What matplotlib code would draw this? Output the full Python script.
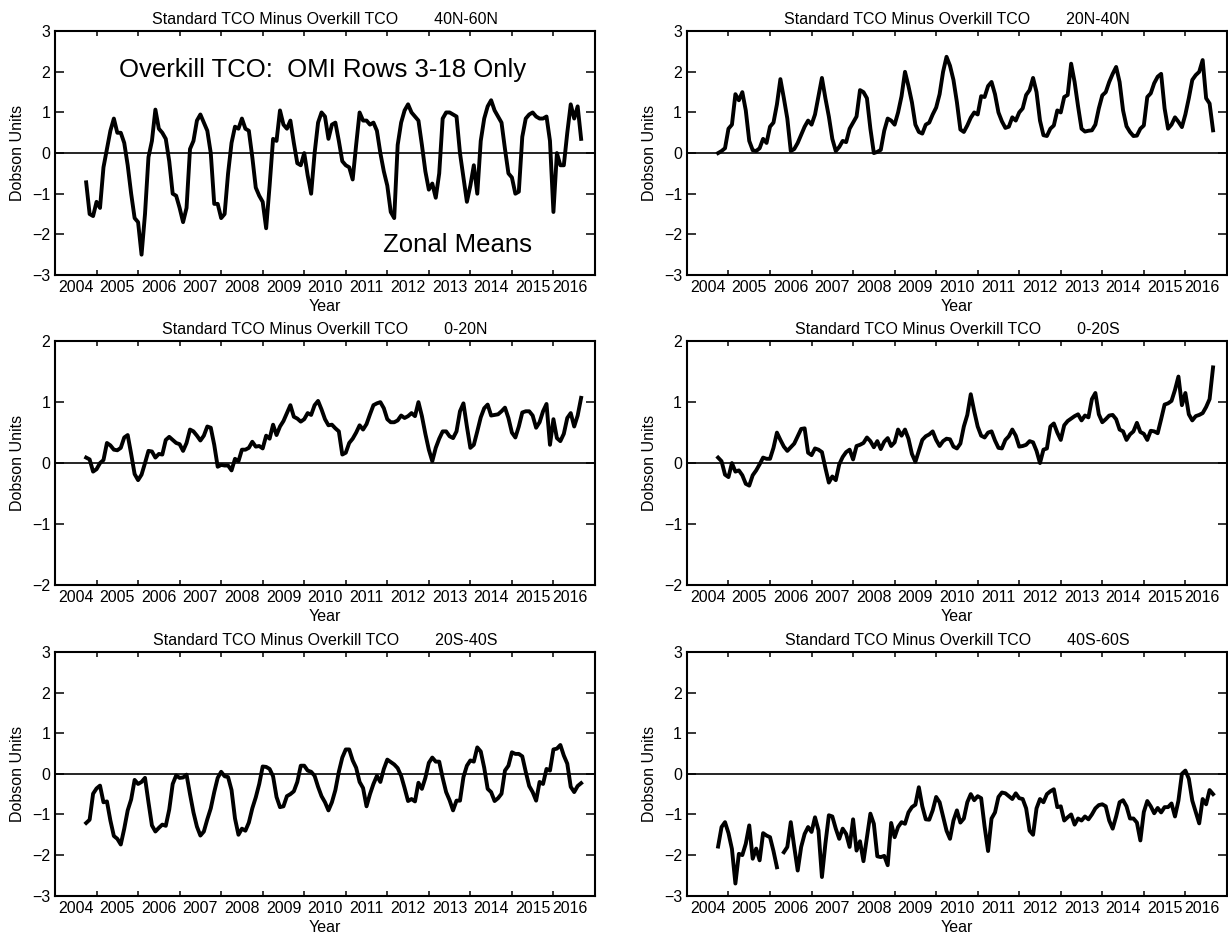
import numpy as np
import matplotlib
matplotlib.use('Agg')
from matplotlib import pyplot as plt

plt.rcParams['font.family'] = ['Liberation Sans', 'DejaVu Sans']

#=============================================================================================
# Standard TCO minus Overkill TCO, monthly zonal means (DU)
# first value = Oct 2004, one row = Oct .. Sep
#=============================================================================================
start_year = 2004
start_month = 10

n40_60 = [
    [-0.72, -1.5, -1.55, -1.2, -1.35, -0.35, 0.1, 0.55, 0.85, 0.5, 0.5, 0.25],
    [-0.3, -1.0, -1.6, -1.7, -2.5, -1.5, -0.1, 0.3, 1.07, 0.6, 0.5, 0.35],
    [-0.2, -1.0, -1.05, -1.35, -1.7, -1.35, 0.1, 0.3, 0.8, 0.95, 0.75, 0.55],
    [0.0, -1.25, -1.25, -1.6, -1.5, -0.5, 0.25, 0.65, 0.6, 0.85, 0.6, 0.55],
    [-0.1, -0.85, -1.05, -1.2, -1.85, -0.8, 0.35, 0.3, 1.05, 0.7, 0.6, 0.8],
    [0.25, -0.25, -0.3, 0.0, -0.55, -1.0, 0.0, 0.75, 1.0, 0.9, 0.35, 0.7],
    [0.75, 0.3, -0.2, -0.3, -0.35, -0.65, 0.2, 1.0, 0.8, 0.8, 0.7, 0.75],
    [0.55, 0.0, -0.45, -0.8, -1.45, -1.6, 0.2, 0.75, 1.05, 1.2, 1.0, 0.9],
    [0.8, 0.2, -0.45, -0.9, -0.75, -1.1, -0.5, 0.85, 1.0, 1.0, 0.95, 0.9],
    [0.0, -0.6, -1.2, -0.8, -0.3, -1.0, 0.3, 0.85, 1.15, 1.3, 1.05, 0.9],
    [0.75, 0.1, -0.5, -0.6, -1.0, -0.95, 0.4, 0.85, 0.95, 1.0, 0.9, 0.85],
    [0.85, 0.9, 0.3, -1.45, 0.0, -0.3, -0.3, 0.5, 1.2, 0.85, 1.15, 0.35],
]

n20_40 = [
    [0.0, 0.05, 0.12, 0.6, 0.7, 1.45, 1.3, 1.5, 1.05, 0.3, 0.07, 0.05],
    [0.12, 0.35, 0.25, 0.65, 0.75, 1.2, 1.82, 1.35, 0.85, 0.05, 0.1, 0.25],
    [0.45, 0.65, 0.8, 0.7, 0.95, 1.4, 1.85, 1.35, 0.9, 0.35, 0.05, 0.15],
    [0.3, 0.27, 0.6, 0.75, 0.9, 1.55, 1.5, 1.35, 0.6, 0.0, 0.03, 0.08],
    [0.55, 0.85, 0.8, 0.7, 1.0, 1.4, 2.0, 1.65, 1.25, 0.7, 0.52, 0.48],
    [0.7, 0.75, 0.95, 1.12, 1.45, 2.0, 2.37, 2.15, 1.8, 1.25, 0.58, 0.52],
    [0.68, 0.87, 1.0, 0.95, 1.4, 1.38, 1.65, 1.75, 1.45, 1.0, 0.78, 0.62],
    [0.65, 0.88, 0.8, 1.0, 1.1, 1.43, 1.55, 1.85, 1.5, 0.8, 0.44, 0.42],
    [0.6, 0.68, 1.05, 1.0, 1.38, 1.43, 2.2, 1.75, 1.15, 0.6, 0.53, 0.55],
    [0.56, 0.7, 1.1, 1.42, 1.5, 1.75, 1.95, 2.12, 1.75, 1.05, 0.66, 0.52],
    [0.42, 0.43, 0.6, 0.68, 1.38, 1.47, 1.72, 1.88, 1.95, 1.1, 0.6, 0.7],
    [0.88, 0.77, 0.64, 0.95, 1.35, 1.8, 1.92, 2.0, 2.29, 1.35, 1.22, 0.56],
]

n0_20 = [
    [0.09, 0.06, -0.14, -0.1, 0.0, 0.05, 0.33, 0.29, 0.22, 0.21, 0.25, 0.42],
    [0.46, 0.15, -0.18, -0.28, -0.19, 0.0, 0.2, 0.19, 0.09, 0.15, 0.14, 0.38],
    [0.43, 0.38, 0.33, 0.31, 0.2, 0.33, 0.55, 0.52, 0.45, 0.37, 0.45, 0.6],
    [0.58, 0.3, -0.06, -0.03, -0.04, -0.04, -0.12, 0.07, 0.03, 0.22, 0.22, 0.25],
    [0.35, 0.27, 0.28, 0.24, 0.45, 0.4, 0.63, 0.46, 0.6, 0.69, 0.82, 0.95],
    [0.76, 0.73, 0.68, 0.72, 0.82, 0.79, 0.95, 1.02, 0.88, 0.72, 0.62, 0.63],
    [0.57, 0.52, 0.14, 0.17, 0.33, 0.4, 0.5, 0.62, 0.55, 0.64, 0.8, 0.95],
    [0.98, 1.0, 0.9, 0.72, 0.67, 0.67, 0.7, 0.78, 0.74, 0.77, 0.82, 0.77],
    [1.0, 0.77, 0.48, 0.22, 0.03, 0.25, 0.4, 0.52, 0.52, 0.44, 0.41, 0.52],
    [0.85, 0.98, 0.6, 0.25, 0.3, 0.52, 0.75, 0.9, 0.96, 0.78, 0.79, 0.8],
    [0.85, 0.91, 0.74, 0.5, 0.42, 0.6, 0.83, 0.85, 0.85, 0.78, 0.58, 0.67],
    [0.85, 0.97, 0.3, 0.72, 0.41, 0.36, 0.48, 0.74, 0.82, 0.6, 0.78, 1.07],
]

s0_20 = [
    [0.09, 0.03, -0.19, -0.23, 0.0, -0.14, -0.12, -0.2, -0.34, -0.37, -0.2, -0.12],
    [-0.02, 0.09, 0.07, 0.07, 0.25, 0.5, 0.38, 0.27, 0.2, 0.26, 0.32, 0.44],
    [0.56, 0.57, 0.17, 0.13, 0.24, 0.22, 0.18, -0.08, -0.32, -0.22, -0.28, -0.02],
    [0.1, 0.18, 0.22, 0.06, 0.28, 0.3, 0.33, 0.42, 0.36, 0.26, 0.36, 0.23],
    [0.35, 0.41, 0.28, 0.34, 0.55, 0.45, 0.55, 0.4, 0.15, 0.02, 0.2, 0.38],
    [0.44, 0.47, 0.52, 0.38, 0.28, 0.36, 0.4, 0.39, 0.27, 0.24, 0.32, 0.6],
    [0.79, 1.13, 0.85, 0.6, 0.45, 0.42, 0.5, 0.52, 0.37, 0.25, 0.24, 0.38],
    [0.44, 0.55, 0.45, 0.27, 0.28, 0.3, 0.36, 0.34, 0.2, 0.0, 0.22, 0.24],
    [0.6, 0.65, 0.5, 0.38, 0.62, 0.69, 0.73, 0.77, 0.8, 0.7, 0.78, 0.75],
    [1.05, 1.15, 0.8, 0.67, 0.72, 0.78, 0.79, 0.72, 0.55, 0.52, 0.38, 0.47],
    [0.52, 0.66, 0.51, 0.48, 0.38, 0.53, 0.52, 0.49, 0.72, 0.96, 0.98, 1.02],
    [1.2, 1.42, 0.95, 1.15, 0.8, 0.7, 0.77, 0.79, 0.82, 0.92, 1.05, 1.57],
]

s20_40 = [
    [-1.21, -1.13, -0.49, -0.36, -0.29, -0.7, -0.68, -1.15, -1.53, -1.6, -1.74, -1.35],
    [-0.9, -0.63, -0.15, -0.25, -0.2, -0.1, -0.7, -1.27, -1.42, -1.33, -1.25, -1.28],
    [-0.88, -0.25, -0.04, -0.1, -0.09, -0.02, -0.5, -0.95, -1.3, -1.52, -1.42, -1.12],
    [-0.85, -0.45, -0.1, 0.05, -0.06, -0.08, -0.4, -1.1, -1.5, -1.35, -1.4, -1.2],
    [-0.85, -0.58, -0.25, 0.18, 0.17, 0.12, -0.06, -0.57, -0.82, -0.8, -0.55, -0.5],
    [-0.43, -0.2, 0.2, 0.2, 0.08, 0.05, -0.05, -0.32, -0.55, -0.7, -0.9, -0.7],
    [-0.4, 0.05, 0.4, 0.6, 0.6, 0.33, 0.15, -0.2, -0.35, -0.8, -0.5, -0.25],
    [-0.05, -0.2, 0.12, 0.35, 0.29, 0.23, 0.14, -0.05, -0.35, -0.67, -0.62, -0.68],
    [-0.22, -0.37, -0.1, 0.27, 0.4, 0.3, 0.3, -0.1, -0.45, -0.65, -0.9, -0.66],
    [-0.66, -0.08, 0.2, 0.33, 0.3, 0.65, 0.55, 0.15, -0.37, -0.45, -0.67, -0.6],
    [-0.49, 0.08, 0.2, 0.53, 0.49, 0.49, 0.43, 0.05, -0.3, -0.45, -0.66, -0.2],
    [-0.25, 0.12, 0.08, 0.6, 0.62, 0.71, 0.45, 0.25, -0.32, -0.45, -0.3, -0.23],
]

# Mar 2006 is missing in 40S-60S
s40_60 = [
    [-1.79, -1.31, -1.19, -1.46, -1.85, -2.7, -1.97, -2.0, -1.72, -1.27, -2.09, -1.84],
    [-2.13, -1.46, -1.52, -1.56, -1.9, -2.3, np.nan, -1.93, -1.8, -1.19, -1.8, -2.38],
    [-1.8, -1.48, -1.31, -1.43, -1.07, -1.39, -2.54, -1.72, -1.02, -1.05, -1.35, -1.6],
    [-1.35, -1.48, -1.8, -1.12, -1.89, -1.66, -2.15, -1.56, -0.98, -1.23, -2.03, -2.05],
    [-2.02, -2.25, -1.21, -1.56, -1.31, -1.19, -1.23, -0.95, -0.82, -0.76, -0.33, -0.8],
    [-1.12, -1.13, -0.9, -0.57, -0.7, -1.05, -1.4, -1.6, -1.15, -0.9, -1.2, -1.1],
    [-0.7, -0.5, -0.65, -0.55, -0.6, -1.3, -1.9, -1.1, -0.95, -0.57, -0.46, -0.48],
    [-0.55, -0.62, -0.48, -0.6, -0.62, -0.85, -1.4, -1.5, -0.85, -0.62, -0.7, -0.5],
    [-0.43, -0.38, -0.82, -0.8, -1.15, -1.07, -1.0, -1.25, -1.1, -1.15, -1.05, -1.12],
    [-1.0, -0.85, -0.77, -0.75, -0.8, -1.15, -1.35, -1.05, -0.7, -0.65, -0.8, -1.1],
    [-1.1, -1.2, -1.64, -0.94, -0.67, -0.8, -0.97, -0.84, -0.95, -0.82, -0.82, -0.73],
    [-1.05, -0.66, 0.0, 0.08, -0.12, -0.66, -0.94, -1.22, -0.62, -0.75, -0.4, -0.5],
]

label_years = list(range(2004, 2017))
tick_years = list(range(2005, 2017))


def panel(pos, rows, band, ylim):
    ax = fig.add_axes(pos)
    y = np.array(rows, dtype=float).ravel()
    x = start_year + (start_month - 1 + np.arange(len(y))) / 12.0
    ax.axhline(0, color='black', lw=1.2, zorder=1)
    ax.plot(x, y, color='black', lw=2.8, solid_joinstyle='round', zorder=2)

    ax.set_xlim(2004, 2017)
    ax.set_ylim(-ylim, ylim)
    ax.set_yticks(range(-ylim, ylim + 1))

    # ticks on year boundaries, labels in the middle of each year
    ax.set_xticks(tick_years)
    ax.set_xticklabels([])
    lab_pos = [yr + 0.5 for yr in label_years]
    lab_pos[-1] = 2016.4
    ax.set_xticks(lab_pos, minor=True)
    ax.set_xticklabels([str(yr) for yr in label_years], minor=True)

    ax.tick_params(axis='x', which='major', direction='in', top=True, bottom=True,
                   length=3.5, width=1.1)
    ax.tick_params(axis='x', which='minor', length=0, pad=3.5, labelsize=11.5)
    ax.tick_params(axis='y', which='major', direction='in', left=True, right=True,
                   length=6.5, width=1.1, pad=3.5, labelsize=11.5)
    for s in ax.spines.values():
        s.set_linewidth(1.5)

    ax.set_title('Standard TCO Minus Overkill TCO        ' + band, fontsize=11.5, pad=5)
    ax.set_ylabel('Dobson Units', fontsize=11.5)
    ax.yaxis.set_label_coords(-0.056, 0.5)
    ax.set_xlabel('Year', fontsize=11.5)
    ax.xaxis.set_label_coords(0.5, -0.098)
    return ax


fig = plt.figure(figsize=(12.28, 9.34), dpi=100)

x_left, x_right, w = 0.0448, 0.5594, 0.4397
y_top, y_mid, y_bot, h = 0.7056, 0.3737, 0.0410, 0.261

ax1 = panel([x_left, y_top, w, h], n40_60, '40N-60N', 3)
panel([x_right, y_top, w, h], n20_40, '20N-40N', 3)
panel([x_left, y_mid, w, h], n0_20, '0-20N', 2)
panel([x_right, y_mid, w, h], s0_20, '0-20S', 2)
panel([x_left, y_bot, w, h], s20_40, '20S-40S', 3)
panel([x_right, y_bot, w, h], s40_60, '40S-60S', 3)

ax1.text(0.495, 0.813, 'Overkill TCO:  OMI Rows 3-18 Only', transform=ax1.transAxes,
         ha='center', va='baseline', fontsize=18.5)
ax1.text(0.745, 0.093, 'Zonal Means', transform=ax1.transAxes,
         ha='center', va='baseline', fontsize=18.5)

fig.savefig('out.png', dpi=100)
